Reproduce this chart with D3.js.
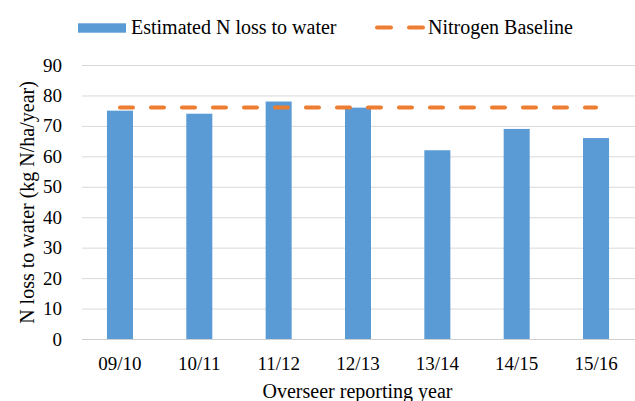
<!DOCTYPE html>
<html>
<head>
<meta charset="utf-8">
<script src="https://cdn.jsdelivr.net/npm/d3@7"></script>
<style>
  html, body { margin: 0; padding: 0; background: #fff; }
  svg { display: block; }
</style>
</head>
<body>
<svg id="chart" width="635" height="401"></svg>
<script>
// Reporting years and estimated nitrogen loss (kg N/ha/year)
const years = ["09/10", "10/11", "11/12", "12/13", "13/14", "14/15", "15/16"];
const nLoss = [75, 74, 78, 76, 62, 69, 66];
const baseline = [76, 76, 76, 76, 76, 76, 76];
const yTicks = [0, 10, 20, 30, 40, 50, 60, 70, 80, 90];

const barColor = "#5B9BD5";
const lineColor = "#ED7D31";
const FONT = "Times New Roman, Liberation Serif, DejaVu Serif, serif";
const TICK_FS = "19px";
const FS = "20px";

const svg = d3.select("#chart");
const W = 635;
const gridLeft = 82;

const x = d3.scaleBand()
  .domain(years)
  .range([80.3, 635.7])
  .paddingInner(0.672)
  .paddingOuter(0.336);

const y = d3.scaleLinear()
  .domain([0, 90])
  .range([339, 65]);

// Horizontal gridlines with value labels
const yAxis = d3.axisLeft(y)
  .tickValues(yTicks)
  .tickSize(-(W - gridLeft))
  .tickPadding(20)
  .tickFormat(d3.format("d"));

const gy = svg.append("g")
  .attr("transform", `translate(${gridLeft},0)`)
  .call(yAxis)
  .attr("font-family", FONT)
  .attr("font-size", TICK_FS);
gy.select(".domain").remove();
gy.selectAll(".tick line").attr("stroke", "#D9D9D9").attr("stroke-width", 1);
gy.selectAll(".tick text").attr("fill", "#000");

// Bars
svg.append("g").selectAll("rect")
  .data(years)
  .join("rect")
  .attr("x", d => x(d))
  .attr("width", x.bandwidth())
  .attr("y", (d, i) => y(nLoss[i]))
  .attr("height", (d, i) => y(0) - y(nLoss[i]))
  .attr("fill", barColor);

// Category axis
const xAxis = d3.axisBottom(x).tickSize(0).tickPadding(17.5);
const gx = svg.append("g")
  .attr("transform", `translate(0,${y(0)})`)
  .call(xAxis)
  .attr("font-family", FONT)
  .attr("font-size", TICK_FS);
gx.select(".domain")
  .attr("d", `M${gridLeft},0.5H${W}`)
  .attr("stroke", "#D0D0D0");
gx.selectAll(".tick text").attr("fill", "#000");

// Nitrogen baseline
const line = d3.line()
  .x((d, i) => x(years[i]) + x.bandwidth() / 2)
  .y(d => y(d));

svg.append("path")
  .datum(baseline)
  .attr("d", line)
  .attr("fill", "none")
  .attr("stroke", lineColor)
  .attr("stroke-width", 4)
  .attr("stroke-dasharray", "13 18")
  .attr("stroke-linecap", "round");

// Text helper
function label(g, x0, y0, txt, anchor) {
  return g.append("text")
    .attr("x", x0).attr("y", y0)
    .attr("text-anchor", anchor || "start")
    .attr("font-family", FONT)
    .attr("font-size", FS)
    .attr("fill", "#000")
    .text(txt);
}

// Axis titles
label(svg, 357.5, 398, "Overseer reporting year", "middle");
label(svg, 0, 0, "N loss to water (kg N/ha/year)", "middle")
  .attr("transform", `translate(34,202.5) rotate(-90)`);

// Legend
const legend = svg.append("g");
legend.append("rect")
  .attr("x", 78).attr("y", 23.3).attr("width", 48).attr("height", 9.4)
  .attr("fill", barColor);
label(legend, 131, 34, "Estimated N loss to water");
legend.append("line")
  .attr("x1", 377).attr("x2", 423).attr("y1", 27.5).attr("y2", 27.5)
  .attr("stroke", lineColor).attr("stroke-width", 4)
  .attr("stroke-dasharray", "14 18")
  .attr("stroke-linecap", "round");
label(legend, 428, 34, "Nitrogen Baseline");
</script>
</body>
</html>
